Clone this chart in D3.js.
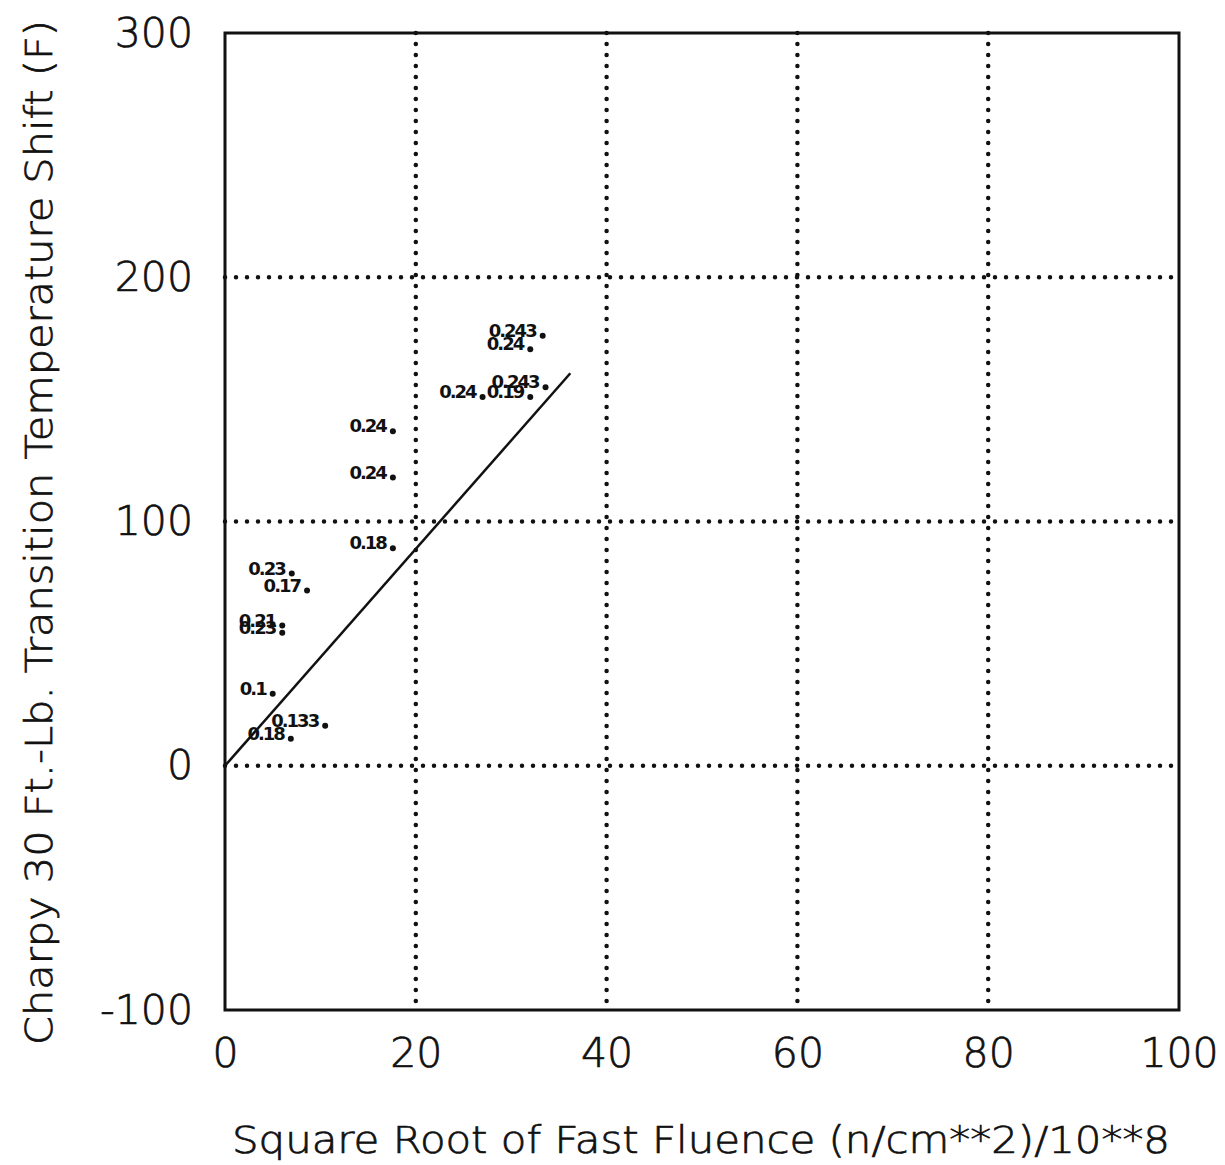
<!DOCTYPE html>
<html>
<head>
<script src="https://cdn.jsdelivr.net/npm/d3@7/dist/d3.min.js"></script>
<style>
  body { margin: 0; background: #fff; }
  text { font-family: "DejaVu Sans", "Liberation Sans", sans-serif; fill: #111; }
  .big { font-weight: 200; stroke: #111; stroke-width: 0.7px; }
</style>
</head>
<body>
<script>
// point labels (copper content) and positions
const labels = ["0.243", "0.24", "0.243", "0.19", "0.24", "0.24", "0.24", "0.18", "0.23", "0.17", "0.21", "0.23", "0.1", "0.133", "0.18"];
const fluence = [33.3, 32.0, 33.6, 32.0, 27.0, 17.6, 17.6, 17.6, 7.0, 8.6, 6.0, 6.0, 5.0, 10.5, 6.9];
const shift = [176, 170.5, 155, 151, 151, 137, 118, 89, 78.7, 71.7, 57.4, 54.5, 29.5, 16.4, 11.1];

// trend line
const lineX = [0, 36.2];
const lineY = [0, 160.7];

const xTicks = [0, 20, 40, 60, 80, 100];
const yTicks = [-100, 0, 100, 200, 300];
const xGrid = [20, 40, 60, 80];
const yGrid = [0, 100, 200];

const w = 1225, h = 1165;
const svg = d3.select("body").append("svg")
  .attr("width", w)
  .attr("height", h);

const x = d3.scaleLinear().domain([0, 100]).range([225, 1179]);
const y = d3.scaleLinear().domain([-100, 300]).range([1010, 33]);

// dotted grid
svg.selectAll(".vg").data(xGrid).enter().append("line")
  .attr("x1", d => x(d)).attr("x2", d => x(d))
  .attr("y1", y(300)).attr("y2", y(-100))
  .attr("stroke", "#111").attr("stroke-width", 4.5)
  .attr("stroke-linecap", "round").attr("stroke-dasharray", "0 11");
svg.selectAll(".hg").data(yGrid).enter().append("line")
  .attr("x1", x(0)).attr("x2", x(100))
  .attr("y1", d => y(d)).attr("y2", d => y(d))
  .attr("stroke", "#111").attr("stroke-width", 4.5)
  .attr("stroke-linecap", "round").attr("stroke-dasharray", "0 11");

// frame
svg.append("rect")
  .attr("x", x(0)).attr("y", y(300))
  .attr("width", x(100) - x(0)).attr("height", y(-100) - y(300))
  .attr("fill", "none").attr("stroke", "#111").attr("stroke-width", 3);

// axes, labels only
const xAxis = d3.axisBottom(x).tickValues(xTicks).tickSize(0).tickPadding(28).tickFormat(d3.format("d"));
const yAxis = d3.axisLeft(y).tickValues(yTicks).tickSize(0).tickPadding(32).tickFormat(d => d < 0 ? "-" + Math.abs(d) : d);

const gx = svg.append("g").attr("transform", "translate(0," + y(-100) + ")").call(xAxis);
const gy = svg.append("g").attr("transform", "translate(" + x(0) + ",0)").call(yAxis);
[gx, gy].forEach(g => {
  g.select(".domain").remove();
  g.selectAll("text").attr("class", "big").style("font-size", "41px")
    .style("font-family", "'DejaVu Sans', sans-serif").attr("fill", "#111");
});

// trend line
const line = d3.line().x(d => x(d[0])).y(d => y(d[1]));
svg.append("path")
  .datum(lineX.map((d, i) => [d, lineY[i]]))
  .attr("d", line)
  .attr("fill", "none").attr("stroke", "#111").attr("stroke-width", 2.5);

// data points with copper labels
const pts = labels.map((l, i) => ({ l: l, x: fluence[i], y: shift[i] }));
svg.selectAll(".pt").data(pts).enter().append("circle")
  .attr("cx", d => x(d.x)).attr("cy", d => y(d.y))
  .attr("r", 3).attr("fill", "#111");
svg.selectAll(".lab").data(pts).enter().append("text")
  .attr("x", d => x(d.x) - 7).attr("y", d => y(d.y) + 1)
  .attr("text-anchor", "end")
  .style("font-size", "18px").style("font-weight", "bold")
  .style("letter-spacing", "-2px")
  .text(d => d.l);

// axis titles
svg.append("text")
  .attr("class", "big")
  .attr("x", 232).attr("y", 1153)
  .attr("textLength", 938).attr("lengthAdjust", "spacingAndGlyphs")
  .style("font-size", "37px")
  .text("Square Root of Fast Fluence (n/cm**2)/10**8");

svg.append("text")
  .attr("class", "big")
  .attr("transform", "translate(52,1045) rotate(-90)")
  .attr("textLength", 1025).attr("lengthAdjust", "spacingAndGlyphs")
  .style("font-size", "37px")
  .text("Charpy 30 Ft.-Lb. Transition Temperature Shift (F)");
</script>
</body>
</html>
